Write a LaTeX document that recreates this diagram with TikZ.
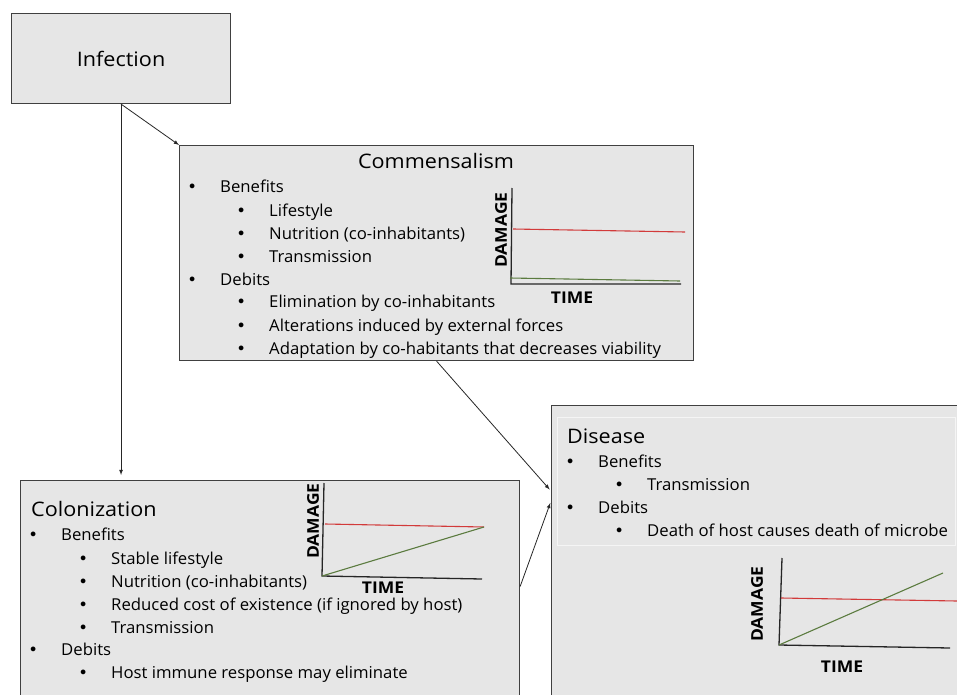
\documentclass[tikz,border=0pt]{standalone}
\usepackage{fontspec}
\setmainfont{Open Sans}[FakeStretch=1.08]
\newfontfamily\itemfont{Open Sans}[FakeStretch=1.02]
\newfontfamily\bulfont{DejaVu Sans}
\newcommand{\bul}{\llap{\makebox[56pt]{\bulfont •}}}
\definecolor{boxfill}{HTML}{E6E6E6}
\definecolor{boxline}{HTML}{404040}
\definecolor{dmgred}{HTML}{D23A3A}
\definecolor{hostgreen}{HTML}{5B7B3F}

\begin{document}
\begin{tikzpicture}[x=1pt,y=-1pt,
					>=latex,
					box/.style={draw=boxline,fill=boxfill,line width=1.1pt,inner sep=0pt,anchor=north west},
					conn/.style={->,draw=black!85,line width=0.8pt},
					title/.style={inner sep=0pt,font=\fontsize{20}{24}\selectfont},
					item/.style={anchor=base west,inner sep=0pt,font=\itemfont\fontsize{16.4}{20}\selectfont},
					axis/.style={line width=1.3pt,black!85},
					red line/.style={line width=1.1pt,dmgred},
					green line/.style={line width=1.1pt,hostgreen},
					axis label/.style={inner sep=0pt,font=\bfseries\fontsize{16.2}{19}\selectfont}]

  \clip (0,0) rectangle (957,695);

  % boxes
  \node[box,minimum width=219pt,minimum height=90pt,title] (inf) at (11,13) {Infection};
  \node[box,minimum width=514pt,minimum height=215pt] (com) at (179,145) {};
  \node[box,minimum width=499pt,minimum height=222pt] (col) at (20,480) {};
  \node[box,minimum width=410pt,minimum height=295pt] (dis) at (551,405) {};
  \node[draw=white!92!gray,line width=1pt,inner sep=0pt,anchor=north west,
        minimum width=398pt,minimum height=128pt] (disin) at (557,417) {};

  % Commensalism
  \node[title,anchor=base] (comt) at (436,168) {Commensalism};
  \foreach \y/\t in {193/Benefits,285/Debits}
    \node[item] at (220,\y) {\bul\t};
  \foreach \y/\t in {216/Lifestyle,239/Nutrition (co-inhabitants),262/Transmission,
                     307/Elimination by co-inhabitants,331/Alterations induced by external forces,
                     354/Adaptation by co-habitants that decreases viability}
    \node[item] at (269,\y) {\bul\t};
  \draw[axis] (512,188) -- (511,284) -- (681,284);
  \draw[red line] (513,229) -- (685,232);
  \draw[green line] (510,278) -- (680,281);
  \node[axis label,rotate=90] (comd) at (501,230) {DAMAGE};
  \node[axis label] (comtime) at (572,298) {TIME};

  % Colonization
  \node[title,anchor=base west] (colt) at (31,516) {Colonization};
  \foreach \y/\t in {540/Benefits,655/Debits}
    \node[item] at (61,\y) {\bul\t};
  \foreach \y/\t in {564/Stable lifestyle,587/Nutrition (co-inhabitants),
                     610/Reduced cost of existence (if ignored by host),633/Transmission,
                     678/Host immune response may eliminate}
    \node[item] at (111,\y) {\bul\t};
  \draw[axis] (324,483) -- (322,576) -- (482,579);
  \draw[red line] (325,524) -- (484,527);
  \draw[green line] (322,576) -- (484,527);
  \node[axis label,rotate=90] (cold) at (313,521) {DAMAGE};
  \node[axis label] (coltime) at (383,588) {TIME};

  % Disease
  \node[title,anchor=base west] (dist) at (567,443) {Disease};
  \foreach \y/\t in {467/Benefits,513/Debits}
    \node[item] at (598,\y) {\bul\t};
  \foreach \y/\t in {490/Transmission,536/Death of host causes death of microbe}
    \node[item] at (647,\y) {\bul\t};
  \draw[axis] (782,558) -- (779,645) -- (950,648);
  \draw[red line] (781,598) -- (957,601);
  \draw[green line] (779,645) -- (943,573);
  \node[axis label,rotate=90] (disd) at (757,604) {DAMAGE};
  \node[axis label] (distime) at (842,667) {TIME};

  % connectors
  \draw[conn] (inf.south) -- (com.north west);
  \draw[conn,shorten >=5pt] (inf.south) -- (inf.south |- col.north);
  \draw[conn,shorten >=2pt] (com.south) -- ([yshift=62pt]dis.west);
  \draw[conn,shorten >=2pt] ([yshift=5pt]col.east) -- ([yshift=52pt]dis.west);
\end{tikzpicture}
\end{document}
